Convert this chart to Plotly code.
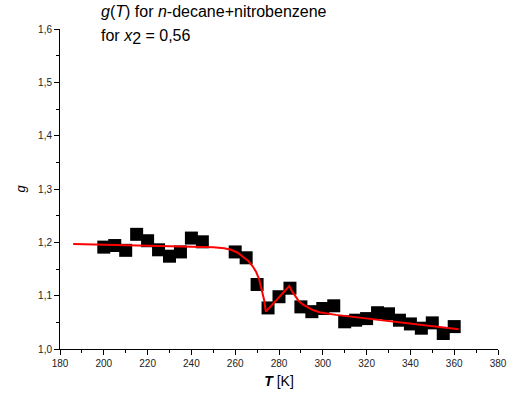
import plotly.graph_objects as go

# measured g(T) for n-decane + nitrobenzene, x2 = 0.56
temperature_K = [200, 205, 210, 215, 220, 225, 230, 235, 240, 245,
                 260, 265, 270, 275, 280, 285, 290, 295, 300, 305,
                 310, 315, 320, 325, 330, 335, 340, 345, 350, 355, 360]
g_measured = [1.191, 1.194, 1.185, 1.215, 1.203, 1.186, 1.174, 1.182, 1.208, 1.201,
              1.182, 1.171, 1.121, 1.077, 1.098, 1.114, 1.079, 1.070, 1.076, 1.081,
              1.051, 1.054, 1.057, 1.068, 1.066, 1.054, 1.047, 1.039, 1.049, 1.029, 1.042]

# fitted curve, sampled
fit_T = [186, 200, 220, 240, 250, 255, 258, 261, 264, 266, 268, 269.5, 271, 272.2,
         273.2, 274, 279.3, 284.7, 286, 287.5, 289, 291, 293, 295.5, 298.5, 302, 306, 362]
fit_g = [1.197, 1.196, 1.194, 1.192, 1.191, 1.189, 1.186, 1.181, 1.172, 1.165, 1.155,
         1.145, 1.130, 1.112, 1.092, 1.070, 1.094, 1.118, 1.108, 1.098, 1.090, 1.083,
         1.078, 1.073, 1.069, 1.066, 1.064, 1.037]

FONT = "Liberation Sans, Arial, sans-serif"

fig = go.Figure()
fig.add_trace(go.Scatter(
    x=temperature_K, y=g_measured, mode="markers",
    marker=dict(symbol="square", size=13, color="black", line=dict(width=0)),
    showlegend=False, hoverinfo="x+y"))
fig.add_trace(go.Scatter(
    x=fit_T, y=fit_g, mode="lines",
    line=dict(color="#ff0000", width=2),
    showlegend=False, hoverinfo="skip"))

axis_common = dict(
    showline=True, linecolor="black", linewidth=1, mirror=False,
    ticks="outside", ticklen=5, tickwidth=1, tickcolor="black",
    showgrid=False, zeroline=False, automargin=False,
    tickfont=dict(family=FONT, size=10, color="#222222"),
)

fig.update_xaxes(
    range=[180, 380], tick0=180, dtick=20,
    minor=dict(ticks="outside", ticklen=3, dtick=10, tick0=180, tickcolor="black", showgrid=False),
    title=dict(text="<b><i>T</i></b> [K]", font=dict(family=FONT, size=14, color="black"), standoff=8),
    **axis_common)
fig.update_yaxes(
    range=[1.0, 1.6], tick0=1.0, dtick=0.1, tickformat=".1f",
    minor=dict(ticks="outside", ticklen=3, dtick=0.05, tick0=1.0, tickcolor="black", showgrid=False),
    title=dict(text="<i>g</i>", font=dict(family=FONT, size=13, color="black"), standoff=9),
    **axis_common)

fig.add_annotation(
    text="<i>g</i>(<i>T</i>) for <i>n</i>-decane+nitrobenzene",
    xref="paper", yref="paper", x=(99 - 60) / 438, y=1 + (29 - 1) / 320,
    xanchor="left", yanchor="top", showarrow=False, align="left",
    font=dict(family=FONT, size=16, color="black"))
fig.add_annotation(
    text="for <i>x</i><sub><span style='font-size:16px'>2</span></sub> = 0,56",
    xref="paper", yref="paper", x=(99 - 60) / 438, y=1 + (29 - 25) / 320,
    xanchor="left", yanchor="top", showarrow=False, align="left",
    font=dict(family=FONT, size=16, color="black"))

fig.update_layout(
    width=507, height=404,
    margin=dict(l=60, r=9, t=29, b=55),
    paper_bgcolor="white", plot_bgcolor="white",
    separators=",.",
    font=dict(family=FONT),
)

fig.write_html("out.html")
